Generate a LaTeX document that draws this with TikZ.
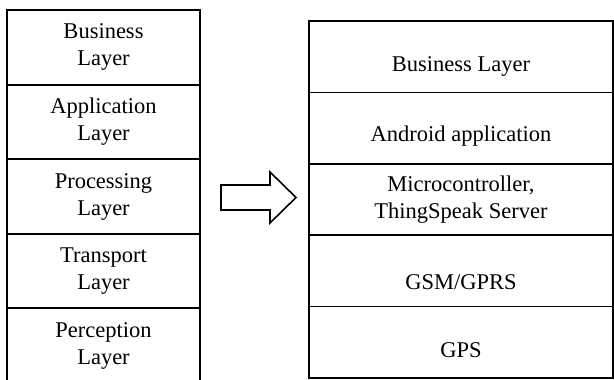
\documentclass[tikz,border=0pt]{standalone}
\usepackage{fontspec}
\setmainfont{Liberation Serif}
\usetikzlibrary{positioning,shapes}
\tikzstyle{layer} = [draw, rectangle, outer sep=0pt, align=center,
    font=\fontsize{22.5}{27}\selectfont]
\tikzstyle{oldlayer} = [layer, line width=1.9pt,
    minimum width=193pt, minimum height=74.6pt]
\tikzstyle{newlayer} = [layer, line width=1.7pt,
    minimum width=304pt, minimum height=71.4pt]
\tikzstyle{lowtext} = [text height=#1, text depth=5pt]
\tikzstyle{bigarrow} = [draw, line width=1.6pt, line join=miter]

\begin{document}
\begin{tikzpicture}[x=1pt, y=1pt, node distance=0pt]
    \useasboundingbox (0,0) rectangle (614,-380);
    % generic IoT layers
    \node [oldlayer, anchor=north west] (business) at (7,-10) {Business\\Layer};
    \node [oldlayer, below=of business] (application) {Application\\Layer};
    \node [oldlayer, below=of application] (processing) {Processing\\Layer};
    \node [oldlayer, below=of processing] (transport) {Transport\\Layer};
    \node [oldlayer, below=of transport] (perception) {Perception\\Layer};
    % mapped system
    \draw [bigarrow] (221,-185) -- (270,-185) -- (270,-172) -- (296,-197.5)
        -- (270,-223) -- (270,-210) -- (221,-210) -- cycle;
    \node [newlayer, lowtext=34pt, anchor=north west] (bizlayer) at (309,-21) {Business Layer};
    \node [newlayer, lowtext=32pt, below=of bizlayer] (android) {Android application};
    \node [newlayer, below=of android] (server) {Microcontroller,\\ThingSpeak Server};
    \node [newlayer, lowtext=42pt, below=of server] (gsm) {GSM/GPRS};
    \node [newlayer, lowtext=36pt, below=of gsm] (gps) {GPS};
\end{tikzpicture}
\end{document}
